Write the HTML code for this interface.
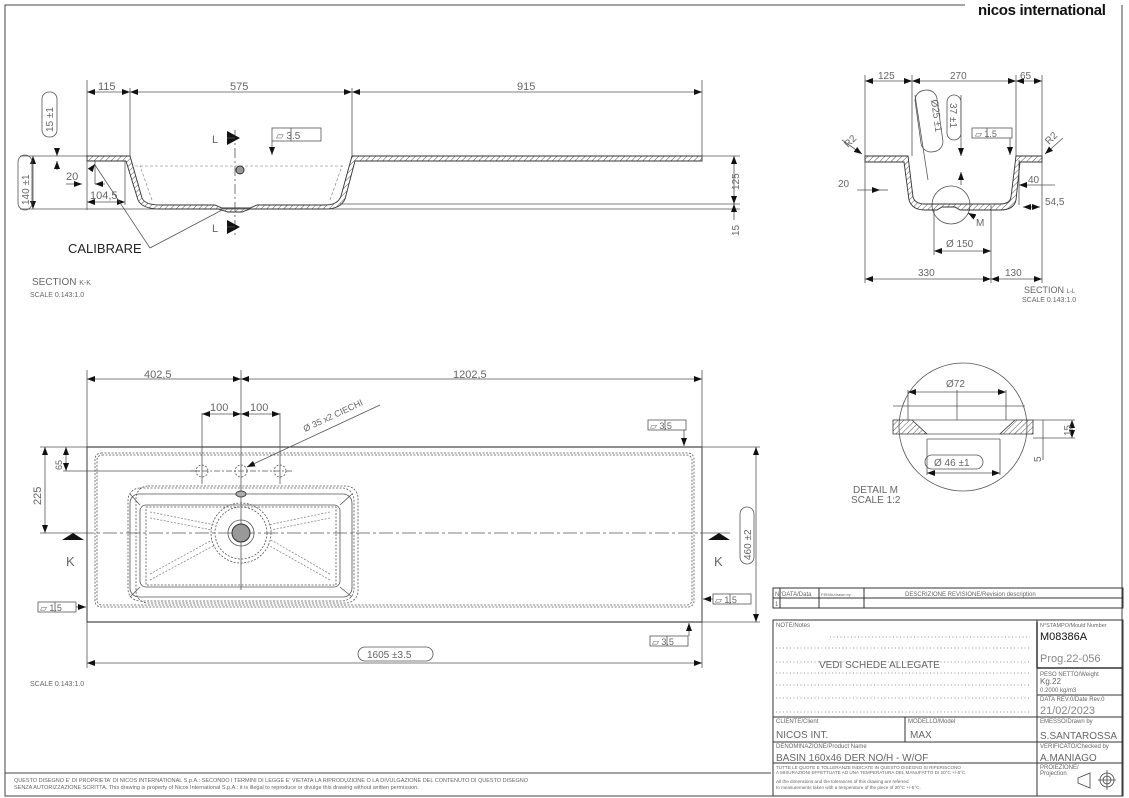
<!DOCTYPE html>
<html><head><meta charset="utf-8"><style>
html,body{margin:0;padding:0;background:#fff}
svg{display:block}
text{font-family:"Liberation Sans",sans-serif;fill:#666}
</style></head><body>
<svg width="1129" height="798" viewBox="0 0 1129 798" xmlns="http://www.w3.org/2000/svg">
<defs>
<pattern id="h" width="4" height="4" patternUnits="userSpaceOnUse" patternTransform="rotate(45)"><line x1="0" y1="0" x2="0" y2="4" stroke="#555" stroke-width="1"/></pattern>
<marker id="a" markerWidth="8" markerHeight="6" refX="8" refY="3" orient="auto-start-reverse" markerUnits="userSpaceOnUse"><path d="M0,0L8,3L0,6z" fill="#111"/></marker>
</defs>
<g stroke="#444" fill="none" stroke-width="1">
<path d="M965,5H5V796H1122V5"/>
<line x1="5" y1="773" x2="771" y2="773"/>
</g>
<text x="978" y="15" style="font-size:15px;fill:#111;font-weight:600;letter-spacing:-0.3px">nicos international</text>

<!-- SECTION K-K -->
<g stroke="#555" fill="none" stroke-width="0.8">
<line x1="87" y1="80" x2="87" y2="210"/><line x1="130" y1="88" x2="130" y2="156"/><line x1="352" y1="88" x2="352" y2="156"/><line x1="702" y1="80" x2="702" y2="156"/>
<line x1="87" y1="92" x2="130" y2="92" marker-start="url(#a)" marker-end="url(#a)"/>
<line x1="130" y1="92" x2="352" y2="92" marker-start="url(#a)" marker-end="url(#a)"/>
<line x1="352" y1="92" x2="702" y2="92" marker-start="url(#a)" marker-end="url(#a)"/>
<line x1="20" y1="156" x2="87" y2="156"/><line x1="20" y1="209" x2="740" y2="209"/><line x1="340" y1="204" x2="740" y2="204"/><line x1="702" y1="156" x2="740" y2="156"/>
<line x1="33" y1="156" x2="33" y2="209" marker-start="url(#a)" marker-end="url(#a)"/>
<line x1="57" y1="148" x2="57" y2="156" marker-end="url(#a)"/><line x1="57" y1="170" x2="57" y2="161" marker-end="url(#a)"/>
<line x1="734" y1="156" x2="734" y2="204" marker-start="url(#a)" marker-end="url(#a)"/>
<line x1="734" y1="220" x2="734" y2="204" marker-end="url(#a)"/>
<line x1="66" y1="184" x2="82" y2="184" marker-end="url(#a)"/><line x1="105" y1="184" x2="95" y2="184" marker-end="url(#a)"/><line x1="95" y1="161" x2="95" y2="184"/>
<line x1="87" y1="202" x2="125" y2="202" marker-start="url(#a)" marker-end="url(#a)"/><line x1="125" y1="161" x2="125" y2="205"/>
<rect x="42" y="92" width="15" height="45" rx="7"/><rect x="18" y="155" width="14" height="55" rx="7"/>
<line x1="235" y1="130" x2="235" y2="235" stroke-dasharray="10,3,2,3"/>
<path d="M150,248L95,165M150,248L222,210"/>
<line x1="92" y1="168" x2="95" y2="164" marker-end="url(#a)"/>
<rect x="272" y="128" width="49" height="13"/><line x1="291" y1="128" x2="291" y2="141"/>
<line x1="272" y1="141" x2="272" y2="155" marker-end="url(#a)"/>
</g>
<path d="M87,156H130L142,198Q145,205 160,205H215L222,208H250L257,205H325Q338,205 341,196L352,156H702V161H355L345,199Q341,209 325,209H250L242,212H228L218,209H160Q142,209 138,200L126,161H87Z" fill="url(#h)" stroke="#333" stroke-width="0.9"/>
<g stroke="#777" fill="none" stroke-width="0.6" stroke-dasharray="3,2"><path d="M135,166H345M152,200L140,166M330,200L342,166"/></g>
<circle cx="240" cy="170" r="4" fill="#999" stroke="#333"/>
<g fill="#111"><path d="M227,131L240,138L227,145z"/><path d="M227,220L240,227L227,234z"/></g>
<g stroke="#555" stroke-width="0.8"><line x1="235" y1="138" x2="227" y2="138"/><line x1="235" y1="227" x2="227" y2="227"/></g>
<g style="font-size:11px">
<text x="98" y="90">115</text><text x="230" y="90">575</text><text x="517" y="90">915</text>
<text x="66" y="180">20</text><text x="90" y="199">104,5</text>
<text x="212" y="143">L</text><text x="212" y="232">L</text>
<text x="68" y="253" style="font-size:13px;fill:#222">CALIBRARE</text>
<text x="276" y="139" style="font-size:10px">▱ 3.5</text>
<text x="32" y="285" style="font-size:10px">SECTION <tspan style="font-size:7px">K-K</tspan></text>
<text x="30" y="297" style="font-size:7px">SCALE 0.143:1.0</text>
<text transform="translate(53,132) rotate(-90)" style="font-size:10px">15 ±1</text>
<text transform="translate(29,205) rotate(-90)" style="font-size:10px">140 ±1</text>
<text transform="translate(739,190) rotate(-90)" style="font-size:10px">125</text>
<text transform="translate(739,236) rotate(-90)" style="font-size:10px">15</text>
</g>

<!-- SECTION L-L -->
<g stroke="#555" fill="none" stroke-width="0.8">
<line x1="865" y1="75" x2="865" y2="283"/><line x1="912" y1="75" x2="912" y2="156"/><line x1="1016" y1="75" x2="1016" y2="156"/><line x1="1042" y1="75" x2="1042" y2="283"/>
<line x1="865" y1="81" x2="912" y2="81" marker-start="url(#a)" marker-end="url(#a)"/>
<line x1="912" y1="81" x2="1016" y2="81" marker-start="url(#a)" marker-end="url(#a)"/>
<line x1="1016" y1="81" x2="1042" y2="81" marker-start="url(#a)" marker-end="url(#a)"/>
<line x1="865" y1="279" x2="991" y2="279" marker-start="url(#a)" marker-end="url(#a)"/>
<line x1="991" y1="279" x2="1042" y2="279" marker-start="url(#a)" marker-end="url(#a)"/>
<line x1="991" y1="205" x2="991" y2="283"/><line x1="934" y1="210" x2="934" y2="255"/>
<line x1="934" y1="251" x2="991" y2="251" marker-start="url(#a)" marker-end="url(#a)"/>
<line x1="857" y1="190" x2="880" y2="190" marker-end="url(#a)"/><line x1="888" y1="190" x2="880" y2="190"/>
<line x1="1055" y1="185" x2="1019" y2="185" marker-end="url(#a)"/><line x1="1019" y1="160" x2="1019" y2="205"/>
<line x1="1040" y1="207" x2="1023" y2="207" marker-start="url(#a)" marker-end="url(#a)"/>
<line x1="961" y1="95" x2="961" y2="156" marker-end="url(#a)"/><line x1="961" y1="185" x2="961" y2="172" marker-end="url(#a)"/>
<path d="M915,95L928,180"/>
<rect x="918" y="90" width="22" height="62" rx="10" transform="rotate(-8 929 121)"/>
<rect x="947" y="95" width="14" height="45" rx="7"/>
<rect x="972" y="128" width="40" height="10"/><line x1="987" y1="128" x2="987" y2="138"/>
<line x1="1010" y1="138" x2="1010" y2="155" marker-end="url(#a)"/>
<line x1="842" y1="140" x2="862" y2="154" marker-end="url(#a)"/><line x1="1063" y1="138" x2="1045" y2="154" marker-end="url(#a)"/>
<circle cx="951" cy="205" r="19"/>
<line x1="975" y1="217" x2="968" y2="213" marker-end="url(#a)"/>
</g>
<path d="M865,156H908L913,197Q915,204 925,204H1000Q1010,204 1011,197L1016,156H1042V162H1020L1016,200Q1014,210 1000,210H960L955,207H942L937,210H925Q912,210 909,200L904,162H865Z" fill="url(#h)" stroke="#333" stroke-width="0.9"/>
<g style="font-size:10px">
<text x="878" y="79">125</text><text x="950" y="79">270</text><text x="1020" y="79">65</text>
<text x="838" y="187">20</text><text x="1028" y="183">40</text><text x="1045" y="205">54,5</text>
<text x="946" y="247">Ø 150</text><text x="918" y="276">330</text><text x="1005" y="276">130</text>
<text x="976" y="226">M</text>
<text x="975" y="137" style="font-size:9px">▱ 1.5</text>
<text transform="translate(848,148) rotate(-45)">R2</text><text transform="translate(1049,145) rotate(-45)">R2</text>
<text transform="translate(931,100) rotate(82)">Ø25 ±1</text>
<text transform="translate(950,103) rotate(90)">37 ±1</text>
<text x="1024" y="293" style="font-size:9px">SECTION <tspan style="font-size:6px">L-L</tspan></text>
<text x="1022" y="302" style="font-size:7px">SCALE 0.143:1.0</text>
</g>

<!-- DETAIL M -->
<circle cx="963" cy="427" r="64" fill="none" stroke="#555" stroke-width="0.8"/>
<path d="M893,420H912L927,434H893Z M1033,420H1015L1000,434H1033Z" fill="url(#h)" stroke="#333" stroke-width="0.8"/>
<g stroke="#555" fill="none" stroke-width="0.8">
<line x1="893" y1="420" x2="1033" y2="420"/><line x1="893" y1="406" x2="1025" y2="406"/><line x1="927" y1="434" x2="1000" y2="434"/><line x1="927" y1="439" x2="1000" y2="439"/>
<line x1="908" y1="392" x2="1006" y2="392" marker-start="url(#a)" marker-end="url(#a)"/>
<line x1="908" y1="390" x2="908" y2="420"/><line x1="1006" y1="390" x2="1006" y2="420"/><line x1="957" y1="390" x2="957" y2="420"/>
<line x1="927" y1="439" x2="927" y2="475"/><line x1="1000" y1="439" x2="1000" y2="475"/>
<line x1="927" y1="473" x2="1000" y2="473" marker-start="url(#a)" marker-end="url(#a)"/>
<rect x="925" y="455" width="58" height="14" rx="7"/>
<line x1="1033" y1="420" x2="1075" y2="420"/><line x1="1033" y1="438" x2="1075" y2="438"/>
<line x1="1072" y1="420" x2="1072" y2="438" marker-start="url(#a)" marker-end="url(#a)"/>
<line x1="1043" y1="420" x2="1043" y2="460"/>
</g>
<g style="font-size:10px"><text x="946" y="387">Ø72</text><text x="934" y="466">Ø 46 ±1</text>
<text transform="translate(1071,436) rotate(-90)">15</text><text transform="translate(1041,462) rotate(-90)">5</text>
<text x="853" y="493">DETAIL M</text><text x="851" y="503">SCALE 1:2</text></g>

<!-- PLAN VIEW -->
<g stroke="#555" fill="none" stroke-width="0.8">
<rect x="87" y="447" width="615" height="175" stroke="#333" stroke-width="1.1"/>
<rect x="95" y="453" width="599" height="154" rx="6" stroke-dasharray="2,1.5"/>
<rect x="97" y="455" width="595" height="150" rx="5" stroke-dasharray="2,1.5"/>
<line x1="87" y1="370" x2="87" y2="668"/><line x1="241" y1="370" x2="241" y2="590"/><line x1="702" y1="370" x2="702" y2="668"/>
<line x1="87" y1="379" x2="241" y2="379" marker-start="url(#a)" marker-end="url(#a)"/>
<line x1="241" y1="379" x2="702" y2="379" marker-start="url(#a)" marker-end="url(#a)"/>
<line x1="202" y1="413" x2="202" y2="484"/><line x1="280" y1="413" x2="280" y2="484"/>
<line x1="202" y1="414" x2="241" y2="414" marker-start="url(#a)" marker-end="url(#a)"/>
<line x1="241" y1="414" x2="280" y2="414" marker-start="url(#a)" marker-end="url(#a)"/>
<circle cx="202" cy="471" r="6" stroke-dasharray="2,1.5"/><circle cx="241" cy="471" r="6" stroke-dasharray="2,1.5"/><circle cx="280" cy="471" r="6" stroke-dasharray="2,1.5"/>
<line x1="190" y1="471" x2="293" y2="471" stroke-dasharray="6,2,2,2"/>
<line x1="380" y1="405" x2="247" y2="467" marker-end="url(#a)"/>
<line x1="40" y1="447" x2="87" y2="447"/><line x1="63" y1="471" x2="200" y2="471"/>
<line x1="45" y1="447" x2="45" y2="533" marker-start="url(#a)" marker-end="url(#a)"/>
<line x1="66" y1="447" x2="66" y2="471" marker-start="url(#a)" marker-end="url(#a)"/>
<line x1="40" y1="533" x2="80" y2="533"/>
<line x1="80" y1="533" x2="700" y2="533" stroke-dasharray="14,3,3,3"/>
<line x1="700" y1="533" x2="730" y2="533"/>
<line x1="702" y1="447" x2="760" y2="447"/><line x1="702" y1="622" x2="760" y2="622"/>
<line x1="756" y1="447" x2="756" y2="622" marker-start="url(#a)" marker-end="url(#a)"/>
<rect x="740" y="507" width="14" height="57" rx="7"/>
<rect x="136" y="486" width="222" height="117" rx="12" stroke-dasharray="2,1.5"/>
<rect x="128" y="488" width="226" height="113" rx="12" stroke-dasharray="2,1.5"/>
<rect x="130" y="494" width="222" height="103" rx="9"/>
<rect x="140" y="505" width="200" height="82" rx="6"/>
<rect x="146" y="507" width="190" height="78" stroke-dasharray="2,1.5"/>
<circle cx="241" cy="533" r="30" stroke-dasharray="2,1.5"/><circle cx="241" cy="533" r="26" stroke-dasharray="2,1.5"/>
<circle cx="241" cy="533" r="13"/>
<g stroke-dasharray="2,1.5" stroke="#888"><path d="M150,512L215,525M150,580L215,545M330,512L268,525M330,580L268,545"/><path d="M150,518L212,530M150,574L212,540M330,518L271,530M330,574L271,540"/></g>
<path d="M140,505L130,494M340,505L352,494M140,587L130,597M340,587L352,597"/>
<rect x="38" y="602" width="38" height="10"/><line x1="55" y1="602" x2="55" y2="612"/><line x1="76" y1="607" x2="86" y2="607" marker-end="url(#a)"/>
<rect x="648" y="420" width="38" height="10"/><line x1="665" y1="420" x2="665" y2="430"/><line x1="684" y1="430" x2="684" y2="446" marker-end="url(#a)"/>
<rect x="713" y="594" width="38" height="10"/><line x1="730" y1="594" x2="730" y2="604"/><line x1="713" y1="599" x2="703" y2="599" marker-end="url(#a)"/>
<rect x="650" y="636" width="38" height="10"/><line x1="667" y1="636" x2="667" y2="646"/><line x1="689" y1="636" x2="689" y2="623" marker-end="url(#a)"/>
<line x1="87" y1="663" x2="702" y2="663" marker-start="url(#a)" marker-end="url(#a)"/>
<rect x="358" y="647" width="75" height="14" rx="7"/>
</g>
<circle cx="241" cy="533" r="9" fill="#999" stroke="#333"/>
<ellipse cx="241" cy="494" rx="5" ry="3" fill="#aaa" stroke="#444"/>
<g fill="#111"><path d="M62,540L73,533L84,540z"/><path d="M708,540L719,533L730,540z"/></g>
<g style="font-size:11px">
<text x="144" y="378">402,5</text><text x="453" y="378">1202,5</text>
<text x="210" y="411">100</text><text x="250" y="411">100</text>
<text transform="translate(305,432) rotate(-25)" style="font-size:9px">Ø 35 x2 CIECHI</text>
<text transform="translate(41,505) rotate(-90)">225</text><text transform="translate(62,470) rotate(-90)" style="font-size:9px">65</text>
<text x="66" y="566" style="font-size:13px">K</text><text x="714" y="566" style="font-size:13px">K</text>
<text transform="translate(751,560) rotate(-90)" style="font-size:10px">460 ±2</text>
<text x="40" y="611" style="font-size:9px">▱ 1.5</text><text x="650" y="429" style="font-size:9px">▱ 3.5</text>
<text x="715" y="603" style="font-size:9px">▱ 1.5</text><text x="652" y="645" style="font-size:9px">▱ 3.5</text>
<text x="367" y="658" style="font-size:10px">1605 ±3.5</text>
<text x="30" y="686" style="font-size:7px">SCALE 0.143:1.0</text>
</g>
<text x="14" y="782" style="font-size:5.5px">QUESTO DISEGNO E' DI PROPRIETA' DI NICOS INTERNATIONAL S.p.A.: SECONDO I TERMINI DI LEGGE E' VIETATA LA RIPRODUZIONE O LA DIVULGAZIONE DEL CONTENUTO DI QUESTO DISEGNO</text>
<text x="14" y="789" style="font-size:5.5px">SENZA AUTORIZZAZIONE SCRITTA. This drawing is property of Nicos International S.p.A.: it is illegal to reproduce or divulge this drawing without written permission.</text>

<!-- TITLE BLOCK -->
<g stroke="#333" fill="none" stroke-width="1">
<rect x="773" y="588" width="350" height="20"/><line x1="773" y1="598" x2="1123" y2="598"/>
<line x1="780" y1="588" x2="780" y2="608"/><line x1="819" y1="588" x2="819" y2="608"/><line x1="864" y1="588" x2="864" y2="608"/>
<rect x="773" y="620" width="350" height="176"/>
<line x1="1037" y1="620" x2="1037" y2="796"/>
<line x1="1037" y1="668" x2="1123" y2="668" stroke-width="1.5"/>
<line x1="1037" y1="695" x2="1123" y2="695"/><line x1="1037" y1="717" x2="1123" y2="717"/>
<line x1="1037" y1="742" x2="1123" y2="742"/><line x1="1037" y1="763" x2="1123" y2="763"/>
<line x1="773" y1="717" x2="1037" y2="717"/><line x1="773" y1="742" x2="1037" y2="742"/><line x1="773" y1="763" x2="1037" y2="763"/>
<line x1="905" y1="717" x2="905" y2="742"/>
<line x1="1037" y1="622" x2="1037" y2="668" stroke-width="1.5"/>
</g>
<g stroke="#777" stroke-width="0.8" stroke-dasharray="1,2.5">
<line x1="830" y1="637" x2="1030" y2="637"/><line x1="776" y1="648" x2="1030" y2="648"/><line x1="776" y1="662" x2="1030" y2="662"/><line x1="776" y1="673" x2="1030" y2="673"/><line x1="776" y1="685" x2="1030" y2="685"/><line x1="776" y1="698" x2="1030" y2="698"/><line x1="776" y1="712" x2="1030" y2="712"/>
</g>
<g stroke="#444" fill="none" stroke-width="0.8"><path d="M1078,778L1090,773V788L1078,783Z"/><circle cx="1107" cy="780" r="7"/><circle cx="1107" cy="780" r="4"/><line x1="1098" y1="780" x2="1116" y2="780"/><line x1="1107" y1="770" x2="1107" y2="790"/></g>
<g style="font-size:6px">
<text x="775" y="596">N°</text><text x="782" y="596">DATA/Data</text><text x="821" y="596" style="font-size:4px">FIRMA/drawn by</text>
<text x="905" y="596">DESCRIZIONE REVISIONE/Revision description</text><text x="775" y="606">1</text>
<text x="776" y="627">NOTE/Notes</text>
<text x="819" y="668" style="font-size:10px">VEDI SCHEDE ALLEGATE</text>
<text x="1040" y="627" style="font-size:5.5px">N°STAMPO/Mould Number</text>
<text x="1040" y="640" style="font-size:11px;fill:#111">M08386A</text>
<text x="1040" y="662" style="font-size:11px;fill:#888">Prog.22-056</text>
<text x="1040" y="676">PESO NETTO/Weight</text><text x="1040" y="684" style="font-size:8px">Kg.22</text><text x="1040" y="692">0.2000 kg/m3</text>
<text x="1040" y="701">DATA REV.0/Date Rev.0</text><text x="1040" y="714" style="font-size:11px;fill:#888">21/02/2023</text>
<text x="1040" y="723">EMESSO/Drawn by</text><text x="1040" y="739" style="font-size:10px">S.SANTAROSSA</text>
<text x="1040" y="748">VERIFICATO/Checked by</text><text x="1040" y="761" style="font-size:10px">A.MANIAGO</text>
<text x="1040" y="769">PROIEZIONE/</text><text x="1040" y="775">Projection</text>
<text x="776" y="723">CLIENTE/Client</text><text x="776" y="738" style="font-size:10px">NICOS INT.</text>
<text x="908" y="723">MODELLO/Model</text><text x="910" y="738" style="font-size:10px">MAX</text>
<text x="776" y="748">DENOMINAZIONE/Product Name</text><text x="776" y="761" style="font-size:10px">BASIN 160x46 DER NO/H - W/OF</text>
<text x="776" y="769" style="font-size:4.6px">TUTTE LE QUOTE E TOLLERANZE INDICATE IN QUESTO DISEGNO SI RIFERISCONO</text>
<text x="776" y="774" style="font-size:4.6px">A MISURAZIONI EFFETTUATE AD UNA TEMPERATURA DEL MANUFATTO DI 20°C +/-5°C.</text>
<text x="776" y="783" style="font-size:4.6px">All the dimensions and the tolerances of this drawing are referred</text>
<text x="776" y="789" style="font-size:4.6px">to measurements taken with a temperature of the piece of 20°C +/-5°C.</text>
</g>
</svg>
</body></html>
